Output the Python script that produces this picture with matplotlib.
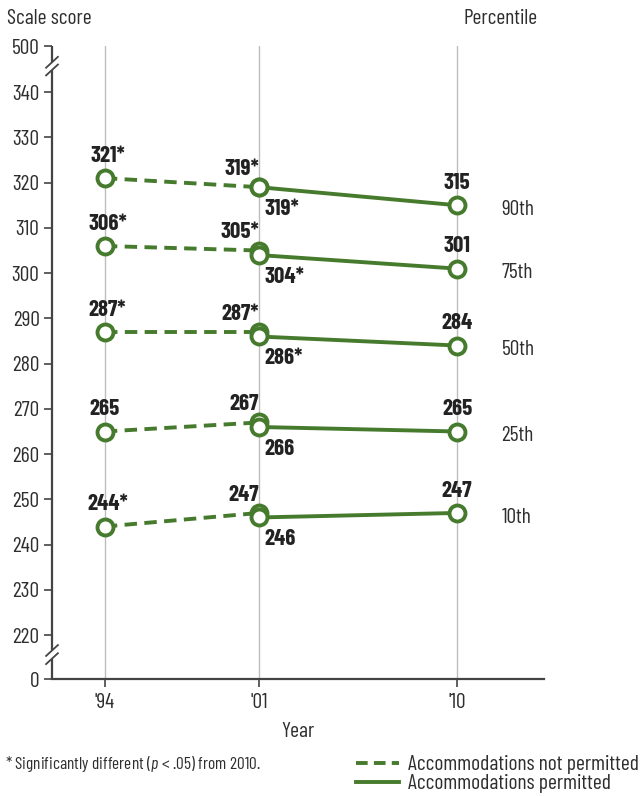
import matplotlib
matplotlib.use("Agg")
import matplotlib.pyplot as plt
from matplotlib.lines import Line2D
import matplotlib.transforms as mtransforms

plt.rcParams['font.family'] = ['Barlow Condensed', 'DejaVu Sans']
plt.rcParams['mathtext.fontset'] = 'custom'
plt.rcParams['mathtext.rm'] = 'Barlow Condensed'
plt.rcParams['mathtext.it'] = 'Barlow Condensed:italic'

# ---- data ----
years_np = [1994, 2001]
years_p = [2001, 2010]
percentiles = ['90th', '75th', '50th', '25th', '10th']
not_permitted = {
    '90th': [321, 319], '75th': [306, 305], '50th': [287, 287],
    '25th': [265, 267], '10th': [244, 247],
}
permitted = {
    '90th': [319, 315], '75th': [304, 301], '50th': [286, 284],
    '25th': [266, 265], '10th': [246, 247],
}
# significance stars (vs 2010)
sig_np = {
    '90th': [True, True], '75th': [True, True], '50th': [True, True],
    '25th': [False, False], '10th': [True, False],
}
sig_p = {
    '90th': [True, False], '75th': [True, False], '50th': [True, False],
    '25th': [False, False], '10th': [False, False],
}
xtick_years = [1994, 2001, 2010]
xtick_labels = ["'94", "'01", "'10"]
ytick_vals = list(range(220, 341, 10))

GREEN = '#467b2d'
DARK = '#2e2e2e'
AXC = '#444444'

fig = plt.figure(figsize=(6.41, 7.96), dpi=100)
ax = fig.add_axes([52/641, 117/796, 492/641, 633/796])

Y_LOW, Y_HIGH = 210.3, 350.2
ax.set_xlim(1991.6, 2013.95)
ax.set_ylim(Y_LOW, Y_HIGH)

# gridlines
for yr in xtick_years:
    ax.axvline(yr, color='#bdbdbd', lw=1.0, zorder=0)

ms = 11.5
mew = 2.8
lw = 2.8
for p in percentiles:
    ax.plot(years_np, not_permitted[p], color=GREEN, lw=lw, ls=(0, (3.2, 1.9)),
            marker='o', ms=ms, mfc='white', mec=GREEN, mew=mew, zorder=3,
            dash_capstyle='butt')
    ax.plot(years_p, permitted[p], color=GREEN, lw=lw, ls='-',
            marker='o', ms=ms, mfc='white', mec=GREEN, mew=mew, zorder=4)

lab_kw = dict(fontsize=16.5, fontweight='bold', color='#222222')
for p in percentiles:
    v94, v01 = not_permitted[p]
    s94, s01 = sig_np[p]
    ax.annotate(f"{v94}{'*' if s94 else ''}", (1994, v94), xytext=(2 if s94 else 0, 16),
                textcoords='offset points', ha='center', va='center', **lab_kw)
    ax.annotate(f"{v01}{'*' if s01 else ''}", (2001, v01), xytext=(0, 13),
                textcoords='offset points', ha='right', va='center', **lab_kw)
    p01, p10 = permitted[p]
    t01, t10 = sig_p[p]
    ax.annotate(f"{p01}{'*' if t01 else ''}", (2001, p01), xytext=(4, -15.5),
                textcoords='offset points', ha='left', va='center', **lab_kw)
    ax.annotate(f"{p10}{'*' if t10 else ''}", (2010, p10), xytext=(0, 16),
                textcoords='offset points', ha='center', va='center', **lab_kw)
    ax.annotate(p, (2010, p10), xytext=(32, -3), textcoords='offset points',
                ha='left', va='center', fontsize=15.5, color=DARK)

# axes styling
for s in ['top', 'right', 'left']:
    ax.spines[s].set_visible(False)
ax.spines['bottom'].set_color(AXC)
ax.spines['bottom'].set_linewidth(1.6)

ax.set_yticks([Y_LOW] + ytick_vals + [Y_HIGH])
ax.set_yticklabels(['0'] + [str(v) for v in ytick_vals] + ['500'])
ax.set_xticks(xtick_years)
ax.set_xticklabels(xtick_labels)
ax.tick_params(axis='y', direction='out', length=6, width=1.2, color=AXC,
               labelsize=15.5, labelcolor=DARK, pad=3)
ax.tick_params(axis='x', direction='out', length=6, width=1.2, color=AXC,
               labelsize=15.5, labelcolor=DARK, pad=4)

# left spine with breaks
trans = mtransforms.blended_transform_factory(ax.transAxes, ax.transData)
segs = [(Y_HIGH, 346.6), (344.9, 216.6), (214.8, Y_LOW)]
for a, b in segs:
    ax.plot([0, 0], [a, b], transform=trans, color=AXC, lw=1.6,
            clip_on=False, solid_capstyle='butt')
for yb in [346.6, 344.9, 216.6, 214.8]:
    ax.plot([-0.012, 0.012], [yb - 1.2, yb + 1.2], transform=trans, color=AXC,
            lw=1.3, clip_on=False)

ax.set_xlabel('Year', fontsize=15.5, color=DARK, labelpad=7)

fig.text(7/641, 1 - 18/796, 'Scale score', fontsize=15.5, color=DARK, ha='left', va='center')
fig.text(538/641, 1 - 18/796, 'Percentile', fontsize=15.5, color=DARK, ha='right', va='center')

fig.text(5/641, 1 - 764/796, r"* Significantly different ($\mathit{p}$ < .05) from 2010.",
         fontsize=12.5, color=DARK, ha='left', va='center')

h1 = Line2D([], [], color=GREEN, lw=2.8, ls=(0, (3.0, 1.6)))
h2 = Line2D([], [], color=GREEN, lw=2.8, ls='-')
fig.legend([h1, h2], ['Accommodations not permitted', 'Accommodations permitted'],
           loc='upper right', bbox_to_anchor=(1.0, 1 - 753/796), frameon=False,
           fontsize=15.5, handlelength=2.0, handletextpad=0.4, labelspacing=0.0,
           labelcolor=DARK, borderpad=0.05, borderaxespad=0.05)

fig.savefig('out.png', dpi=100)
